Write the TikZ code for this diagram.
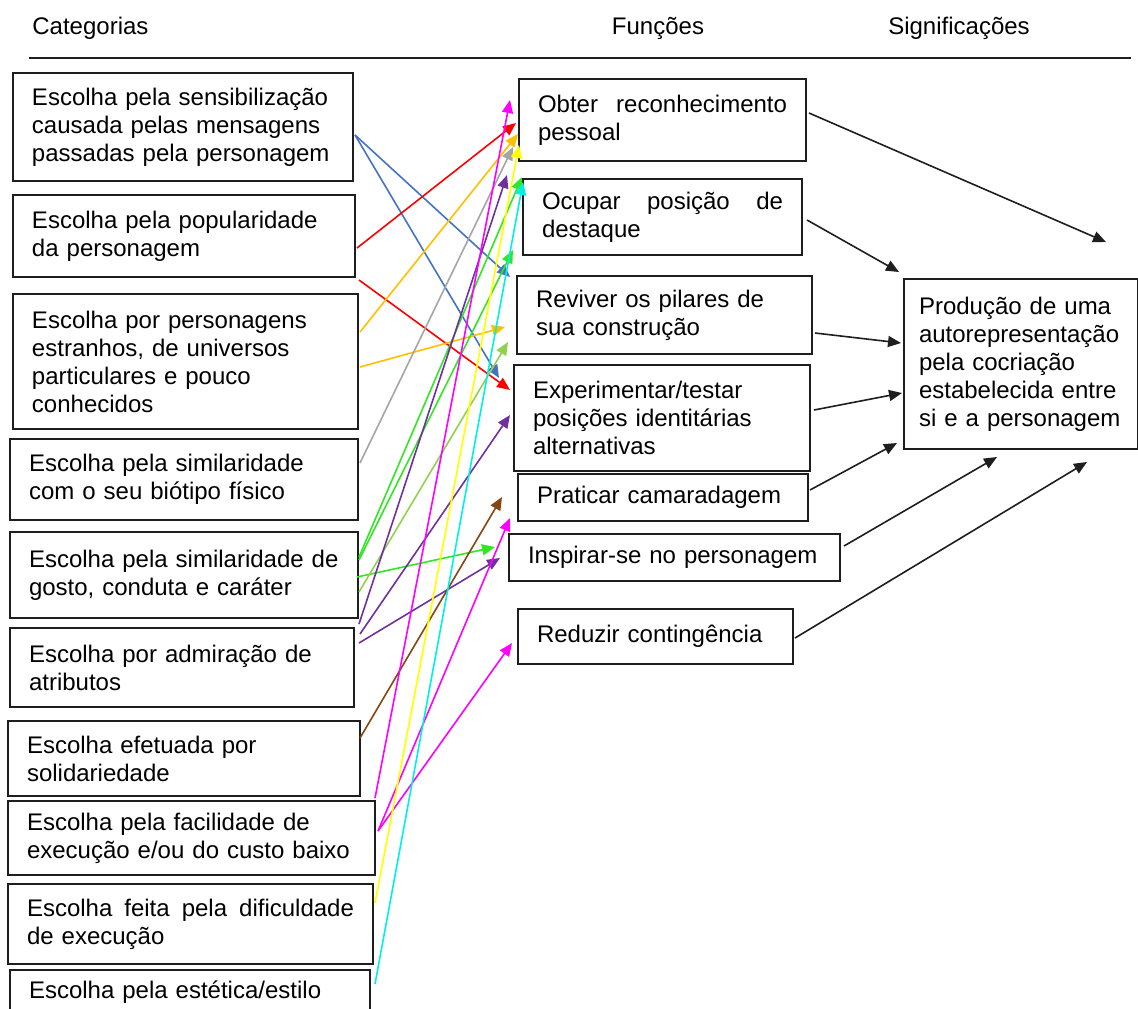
\documentclass[tikz,border=0pt]{standalone}
\usepackage{fontspec}
\setmainfont{Liberation Sans}
\usepackage{tikz}
\usetikzlibrary{arrows.meta, positioning, calc}
\definecolor{line1}{RGB}{30, 30, 30}
\definecolor{blue1}{RGB}{68, 114, 196}
\definecolor{red1}{RGB}{255, 0, 0}
\definecolor{orange1}{RGB}{255, 192, 0}
\definecolor{gray1}{RGB}{165, 165, 165}
\definecolor{green1}{RGB}{51, 230, 35}
\definecolor{lime1}{RGB}{146, 208, 80}
\definecolor{purple1}{RGB}{112, 48, 160}
\definecolor{magenta1}{RGB}{255, 0, 255}
\definecolor{brown1}{RGB}{133, 70, 20}
\definecolor{yellow1}{RGB}{255, 255, 0}
\definecolor{cyan1}{RGB}{0, 240, 230}

\begin{document}
\hyphenpenalty=10000
\exhyphenpenalty=10000
\begin{tikzpicture}[x=0.5pt, y=-0.5pt,
  every node/.style={font=\fontsize{12}{14}\selectfont},
  catbox/.style={draw=line1, line width=1pt, anchor=north west, align=left, inner xsep=9.5pt, inner ysep=2pt},
  conn/.style={line width=0.8pt, -{Triangle[length=6.5pt, width=5.5pt]}}]
  \useasboundingbox (0,0) rectangle (1138,1008);
  \clip (0,0) rectangle (1138,1008);

  % cabecalho
  \node[anchor=west, inner sep=0pt] (hcat) at (32,28) {Categorias};
  \node[inner sep=0pt] (hfun) at (658,28) {Funções};
  \node[inner sep=0pt] (hsig) at (959,28) {Significações};
  \draw[line1, line width=1pt] (29,58) -- (1131,58);

  % categorias
  \node[catbox, text width=151pt, minimum height=54pt] (sens) at (12,72) {Escolha pela sensibilização\\causada pelas mensagens\\passadas pela personagem};
  \node[catbox, text width=152pt, minimum height=41pt] (pop) at (12,194) {Escolha pela popularidade\\da personagem};
  \node[catbox, text width=153.5pt, minimum height=67.5pt] (estr) at (12,293) {Escolha por personagens\\estranhos, de universos\\particulares e pouco\\conhecidos};
  \node[catbox, text width=155pt, minimum height=40.5pt] (bio) at (9,438) {Escolha pela similaridade\\com o seu biótipo físico};
  \node[catbox, text width=155pt, minimum height=43pt] (gosto) at (9,531) {Escolha pela similaridade de\\gosto, conduta e caráter};
  \node[catbox, text width=153pt, minimum height=39.5pt] (adm) at (9,627) {Escolha por admiração de\\atributos};
  \node[catbox, text width=157pt, minimum height=37.5pt] (sol) at (7,720) {Escolha efetuada por\\solidariedade};
  \node[catbox, text width=164.5pt, minimum height=37pt] (fac) at (7,800) {Escolha pela facilidade de\\execução e/ou do custo baixo};
  \node[catbox, text width=163.5pt, minimum height=40pt] (dif) at (7,883) {Escolha\hfill feita\hfill pela\hfill dificuldade\\de execução};
  \node[catbox, text width=161pt, minimum height=22pt] (est) at (9,969) {Escolha pela estética/estilo};

  % funcoes
  \node[catbox, text width=124.5pt, minimum height=41pt] (obter) at (518,78) {Obter\hfill reconhecimento\\pessoal};
  \node[catbox, text width=120.5pt, minimum height=38pt] (ocupar) at (522,178) {Ocupar\hfill posição\hfill de\\destaque};
  \node[catbox, text width=128.5pt, minimum height=39pt] (reviver) at (516,275) {Reviver os pilares de\\sua construção};
  \node[catbox, text width=129pt, minimum height=53pt] (exper) at (513,364) {Experimentar/testar\\posições identitárias\\alternativas};
  \node[catbox, text width=126pt, minimum height=23.5pt] (praticar) at (517,473) {Praticar camaradagem};
  \node[catbox, text width=146.5pt, minimum height=23.5pt] (inspirar) at (508,533) {Inspirar-se no personagem};
  \node[catbox, text width=118.5pt, minimum height=27.5pt] (reduzir) at (517,608) {Reduzir contingência};

  % significacoes
  \node[catbox, inner xsep=7.5pt, text width=102pt, minimum height=85pt] (prod) at (903,278) {Produção de uma\\autorepresentação\\pela cocriação\\estabelecida entre\\si e a personagem};

  % categorias -> funcoes
  \draw[conn, blue1] ($(sens.north east)+(1,63)$) -- ($(reviver.north west)+(-6,2)$);
  \draw[conn, blue1] ($(sens.north east)+(1,63)$) -- ($(exper.north west)+(-14,14)$);
  \draw[conn, red1] ($(pop.north east)+(1,54)$) -- ($(obter.north west)+(-2,45)$);
  \draw[conn, red1] ($(pop.south east)+(3,2)$) -- ($(exper.north west)+(-3,26)$);
  \draw[conn, orange1] ($(estr.north east)+(1,39)$) -- ($(obter.north west)+(0,56)$);
  \draw[conn, orange1] ($(estr.north east)+(1,74)$) -- ($(reviver.north west)+(-11,52)$);
  \draw[conn, gray1] ($(bio.north east)+(1,25)$) -- ($(obter.north west)+(-5,69)$);
  \draw[conn, green1] ($(gosto.north east)+(0,26)$) -- ($(ocupar.north west)+(0,-1)$);
  \draw[conn, green1] ($(gosto.north east)+(0,29)$) -- ($(ocupar.north west)+(-9,72)$);
  \draw[conn, green1] ($(gosto.north east)+(-2,46)$) -- ($(inspirar.north west)+(-13,14)$);
  \draw[conn, lime1] ($(gosto.north east)+(0,61)$) -- ($(reviver.north west)+(-8,67)$);
  \draw[conn, purple1] ($(adm.north east)+(4,-3)$) -- ($(obter.north west)+(-11,97)$);
  \draw[conn, purple1] ($(adm.north east)+(5,7)$) -- ($(exper.north west)+(-3,51)$);
  \draw[conn, purple1] ($(adm.north east)+(4,16)$) -- ($(inspirar.north west)+(-8,25)$);
  \draw[conn, brown1] ($(sol.north east)+(-1,18)$) -- ($(praticar.north west)+(-15,24)$);
  \draw[conn, magenta1] ($(fac.north east)+(-1,-2)$) -- ($(obter.north west)+(-8,22)$);
  \draw[conn, magenta1] ($(fac.north east)+(2,31)$) -- ($(praticar.north west)+(-7,45)$);
  \draw[conn, magenta1] ($(fac.north east)+(2,31)$) -- ($(reduzir.north west)+(-5,35)$);
  \draw[conn, yellow1] ($(dif.north east)+(1,20)$) -- ($(obter.north west)+(1,67)$);
  \draw[conn, cyan1] ($(est.north east)+(4,15)$) -- ($(ocupar.north west)+(1,4)$);

  % funcoes -> significacoes
  \draw[conn, line1] ($(obter.north east)+(2,35)$) -- ($(prod.north west)+(203,-36)$);
  \draw[conn, line1] ($(ocupar.north east)+(4,42)$) -- ($(prod.north west)+(-4,-6)$);
  \draw[conn, line1] ($(reviver.north east)+(2,58)$) -- ($(prod.north west)+(-2,65)$);
  \draw[conn, line1] ($(exper.north east)+(3,46)$) -- ($(prod.north west)+(-1,115)$);
  \draw[conn, line1] ($(praticar.north east)+(1,17)$) -- ($(prod.north west)+(-6,165)$);
  \draw[conn, line1] ($(inspirar.north east)+(3,13)$) -- ($(prod.south west)+(94,7)$);
  \draw[conn, line1] ($(reduzir.north east)+(1,30)$) -- ($(prod.south west)+(184,12)$);
\end{tikzpicture}
\end{document}
